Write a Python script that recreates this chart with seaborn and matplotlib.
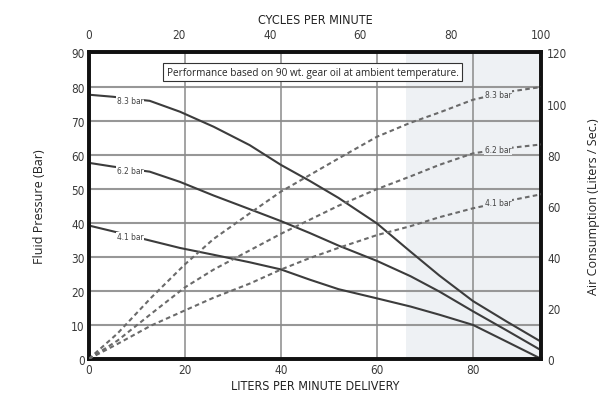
import numpy as np
import pandas as pd
import matplotlib
matplotlib.use("Agg")
import matplotlib.pyplot as plt
import seaborn as sns

# ---- data ----
x_max = 94.25  # liters per minute at 100 cycles per minute

lpm_solid = [0, 5, 12.7, 19, 26, 33.5, 40, 46, 52, 60, 67, 73, 80, 87, 94.25]
pressure_83 = [77.6, 77.0, 75.8, 72.6, 68.2, 62.8, 57.0, 52.3, 47.3, 39.8, 31.5, 24.5, 17.0, 11.0, 5.0]
pressure_62 = [57.6, 56.5, 55.0, 52.0, 48.0, 44.0, 40.5, 37.0, 33.3, 28.8, 24.3, 19.8, 14.0, 8.4, 2.5]
pressure_41 = [39.2, 37.5, 34.8, 32.6, 30.6, 28.4, 26.3, 23.3, 20.5, 17.8, 15.4, 13.0, 10.0, 5.1, 0.0]

lpm_air = [0, 6, 13, 20, 26, 33.5, 40, 46, 52, 60, 67, 73, 80, 87, 94.25]
air_83 = [0, 10.0, 24.0, 37.0, 47.0, 57.0, 65.5, 72.0, 78.5, 87.0, 92.5, 96.5, 101.5, 104.5, 106.5]
air_62 = [0, 7.2, 17.7, 28.0, 35.0, 42.5, 49.0, 54.5, 60.0, 66.5, 71.5, 76.0, 80.5, 82.5, 84.0]
air_41 = [0, 5.9, 13.1, 19.0, 24.0, 29.5, 35.0, 39.5, 43.5, 48.5, 52.0, 55.5, 59.0, 61.8, 64.5]

labels = ['8.3 bar', '6.2 bar', '4.1 bar']
left_ticks = list(range(0, 91, 10))
bottom_ticks = [0, 20, 40, 60, 80]
top_ticks = [0, 20, 40, 60, 80, 100]
right_ticks = list(range(0, 121, 20))
shade_start = 66

sns.set_style('white')
plt.rcParams['font.family'] = ['DejaVu Sans']
plt.rcParams['font.stretch'] = 'condensed'

fig = plt.figure(figsize=(6.16, 4.02), dpi=100)
ax = fig.add_axes([0.144, 0.1045, 0.735, 0.7625])

ax.axvspan(shade_start, x_max, color='#eef1f4', zorder=0, lw=0)
for y in range(10, 90, 10):
    ax.axhline(y, color='#979797', lw=1.5, zorder=1)
for x in [20, 40, 60, 80]:
    ax.axvline(x, color='#8a8a8a', lw=1.1, zorder=1)

solid_color = '#3c3c3c'
for ys in [pressure_83, pressure_62, pressure_41]:
    sns.lineplot(x=lpm_solid, y=ys, ax=ax, color=solid_color, lw=1.5, zorder=3)

ax.set_xlim(0, x_max)
ax.set_ylim(0, 90)
ax.set_xticks(bottom_ticks)
ax.set_yticks(left_ticks)
ax.tick_params(axis='both', length=0, pad=3, labelsize=8.5, colors='#3a3a3a')
ax.set_xlabel('LITERS PER MINUTE DELIVERY', fontsize=9, labelpad=2, color='#222222')
ax.set_ylabel('Fluid Pressure (Bar)', fontsize=9, labelpad=18, color='#222222',
              family=['Open Sans', 'DejaVu Sans'], fontstretch='normal')

ax2 = ax.twinx()
dash_color = '#6a6a6a'
for ys in [air_83, air_62, air_41]:
    sns.lineplot(x=lpm_air, y=ys, ax=ax2, color=dash_color, lw=1.5,
                 linestyle=(0, (2.2, 1.6)), zorder=3)
ax2.set_ylim(0, 120)
ax2.set_yticks(right_ticks)
ax2.tick_params(axis='y', length=0, pad=4, labelsize=8.5, colors='#3a3a3a')
ax2.set_ylabel('Air Consumption (Liters / Sec.)', fontsize=9, labelpad=14, color='#222222',
               family=['Open Sans', 'DejaVu Sans'], fontstretch='normal')

top = ax.secondary_xaxis('top', functions=(lambda v: v * 100 / x_max, lambda c: c * x_max / 100))
top.set_xticks(top_ticks)
top.tick_params(length=0, pad=8, labelsize=8.5, colors='#3a3a3a')
top.set_xlabel('CYCLES PER MINUTE', fontsize=9, labelpad=4, color='#222222')

for a in [ax, ax2]:
    for s in a.spines.values():
        s.set_linewidth(2.6)
        s.set_color('#111111')

# inline curve labels
lab_kw = dict(fontsize=6, color='#444444', ha='center', va='center', zorder=5,
              bbox=dict(facecolor='white', edgecolor='none', pad=0.6))
for ys, lab in zip([pressure_83, pressure_62, pressure_41], labels):
    ax.text(8.6, np.interp(8.6, lpm_solid, ys) - 0.4, lab, **lab_kw)
air_lab_kw = dict(lab_kw)
air_lab_kw['bbox'] = dict(facecolor='#eef1f4', edgecolor='none', pad=0.6)
for ys, lab in zip([air_83, air_62, air_41], labels):
    ax2.text(85.2, np.interp(85.2, lpm_air, ys), lab, **air_lab_kw)

ax.text(46.6, 84.2, 'Performance based on 90 wt. gear oil at ambient temperature.',
        fontsize=7.2, ha='center', va='center', zorder=6, family=['Open Sans', 'DejaVu Sans'],
        fontstretch='normal',
        bbox=dict(facecolor='white', edgecolor='#333333', lw=0.8, pad=2.5))

fig.savefig('out.png', dpi=100)
